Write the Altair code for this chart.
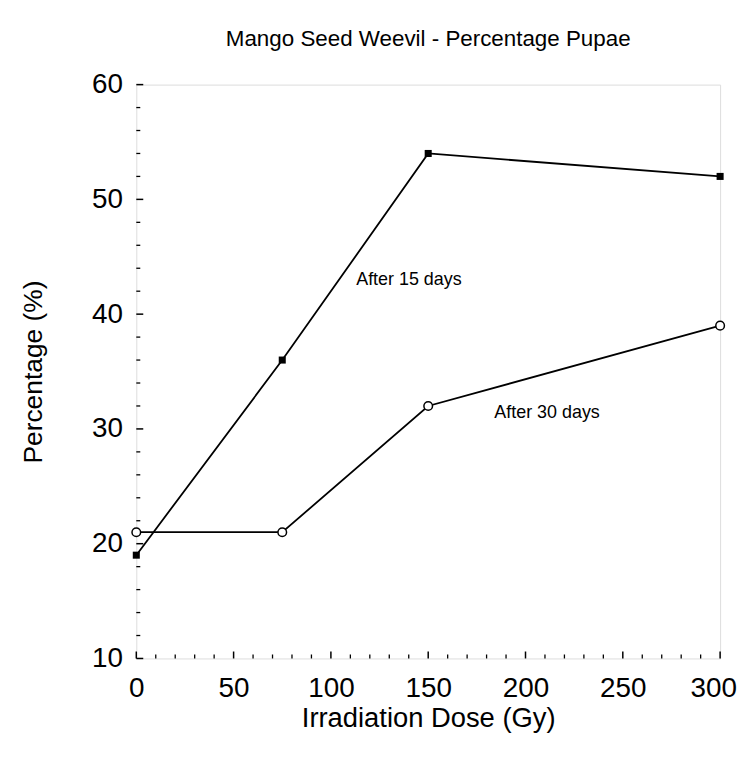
import altair as alt
import pandas as pd

# ---- data ----
dose = [0, 75, 150, 300]
pct_15 = [19, 36, 54, 52]
pct_30 = [21, 21, 32, 39]

x_ticks = [0, 50, 100, 150, 200, 250, 300]
y_ticks = [10, 20, 30, 40, 50, 60]
x_minor = [v for v in range(0, 301, 10) if v % 50]
y_minor = [v for v in range(10, 61, 2) if v % 10]

label_text = ["After 15 days", "After 30 days"]
label_x = [113, 184]
label_y = [43, 31.4]

FONT = "Liberation Sans"
W, H = 587, 577

df15 = pd.DataFrame({"dose": dose, "pct": pct_15})
df30 = pd.DataFrame({"dose": dose, "pct": pct_30})
labels = pd.DataFrame({"dose": label_x, "pct": label_y, "text": label_text})

xs = alt.Scale(domain=[0, 300], nice=False, zero=False)
ys = alt.Scale(domain=[10, 60], nice=False, zero=False)

x_axis = alt.Axis(values=x_ticks, ticks=False, domain=False, grid=False,
                  labelFontSize=28, labelPadding=16, labelFont=FONT,
                  labelColor="black", title="Irradiation Dose (Gy)",
                  labelOffset={"condition": {"test": "datum.value === 300", "value": -7},
                               "value": 0},
                  titleFontSize=27.5, titleFont=FONT, titleFontWeight="normal",
                  titleColor="black", titlePadding=2, labelFlush=False)
y_axis = alt.Axis(values=y_ticks, ticks=False, domain=False, grid=False,
                  labelFontSize=28, labelPadding=14, labelFont=FONT,
                  labelColor="black", title="Percentage (%)",
                  titleFontSize=26.5, titleFont=FONT, titleFontWeight="normal",
                  titleColor="black", titlePadding=44, labelFlush=False)

X = alt.X("dose:Q", scale=xs, axis=x_axis)
Y = alt.Y("pct:Q", scale=ys, axis=y_axis)

line15 = alt.Chart(df15).mark_line(color="black", strokeWidth=1.8).encode(x=X, y=Y)
line30 = alt.Chart(df30).mark_line(color="black", strokeWidth=1.8).encode(x=X, y=Y)
pts15 = alt.Chart(df15).mark_square(color="black", filled=True, size=50, opacity=1).encode(x=X, y=Y)
pts30 = alt.Chart(df30).mark_point(shape="circle", filled=True, fill="white",
                                   stroke="black", strokeWidth=1.5, size=75,
                                   opacity=1).encode(x=X, y=Y)

txt = alt.Chart(labels).mark_text(align="left", baseline="middle", font=FONT,
                                  fontSize=18, color="black").encode(
    x=alt.X("dose:Q", scale=xs), y=alt.Y("pct:Q", scale=ys), text="text:N")

ymaj = pd.DataFrame({"v": y_ticks})
ymin = pd.DataFrame({"v": y_minor})
xmaj = pd.DataFrame({"v": x_ticks})
xmin = pd.DataFrame({"v": x_minor})

tick_y_major = alt.Chart(ymaj).mark_rule(color="black", strokeWidth=1.5).encode(
    y=alt.Y("v:Q", scale=ys), x=alt.value(0), x2=alt.value(7))
tick_y_minor = alt.Chart(ymin).mark_rule(color="black", strokeWidth=1.3).encode(
    y=alt.Y("v:Q", scale=ys), x=alt.value(0), x2=alt.value(4))
tick_x_major = alt.Chart(xmaj).mark_rule(color="black", strokeWidth=1.5).encode(
    x=alt.X("v:Q", scale=xs), y=alt.value(H), y2=alt.value(H - 7))
tick_x_minor = alt.Chart(xmin).mark_rule(color="black", strokeWidth=1.3).encode(
    x=alt.X("v:Q", scale=xs), y=alt.value(H), y2=alt.value(H - 4))

chart = alt.layer(
    line15, line30, tick_y_major, tick_y_minor, tick_x_major, tick_x_minor,
    pts15, pts30, txt
).properties(
    width=W, height=H,
    autosize="none",
    padding={"left": 129, "top": 75, "right": 20, "bottom": 88},
    title=alt.TitleParams("Mango Seed Weevil - Percentage Pupae", font=FONT,
                          fontSize=22.5, fontWeight="normal", color="black",
                          anchor="middle", offset=20),
).configure_view(
    stroke="black", strokeWidth=1.8
).configure(background="white")

chart.save("out.html", embed_options={"renderer": "svg", "actions": False})
